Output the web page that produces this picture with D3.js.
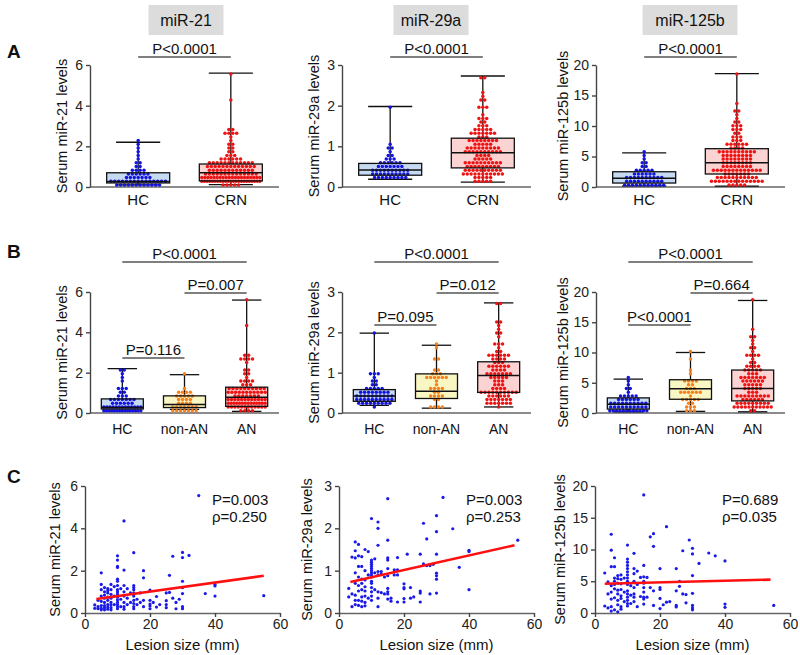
<!DOCTYPE html>
<html><head><meta charset="utf-8">
<script src="https://cdn.jsdelivr.net/npm/d3@7"></script>
<style>body{margin:0;background:#fff}svg{display:block}</style>
</head><body><svg id="chart" width="800" height="655"></svg>
<script>
// ---------------- DATA ----------------
const mirnas = ["miR-21", "miR-29a", "miR-125b"];
const yMax = [6, 3, 20];
const yTicks = [[0, 2, 4, 6], [0, 1, 2, 3], [0, 5, 10, 15, 20]];
const groupsA = ["HC", "CRN"];
const groupsB = ["HC", "non-AN", "AN"];
const pA = ["P<0.0001", "P<0.0001", "P<0.0001"];
const pHCvsAN = ["P<0.0001", "P<0.0001", "P<0.0001"];
const pNonANvsAN = ["P=0.007", "P=0.012", "P=0.664"];
const pHCvsNonAN = ["P=0.116", "P=0.095", "P<0.0001"];
const corrP = ["P=0.003", "P=0.003", "P=0.689"];
const corrRho = ["\u03c1=0.250", "\u03c1=0.253", "\u03c1=0.035"];
const lesionTicks = [0, 20, 40, 60];

// healthy controls
const hc21 = [0.1,0.11,0.12,0.12,0.13,0.14,0.15,0.15,0.16,0.17,0.18,0.18,0.19,0.2,0.2,0.21,0.22,0.22,0.23,0.24,0.25,0.26,0.27,0.28,0.3,0.32,0.35,0.38,0.4,0.42,0.45,0.48,0.5,0.55,0.58,0.6,0.62,0.65,0.68,0.7,0.75,0.8,0.85,0.9,1.0,1.05,1.2,1.25,1.3,1.5,1.7,1.9,2.05,2.2];
const hc29a = [0.19,0.2,0.21,0.22,0.23,0.24,0.25,0.26,0.27,0.28,0.29,0.3,0.3,0.31,0.32,0.33,0.34,0.35,0.36,0.37,0.38,0.39,0.4,0.41,0.42,0.42,0.43,0.44,0.45,0.46,0.47,0.48,0.5,0.51,0.52,0.53,0.55,0.56,0.58,0.6,0.61,0.63,0.65,0.68,0.7,0.78,0.82,0.85,0.95,0.98,1.02,1.98];
const hc125b = [0.2,0.25,0.3,0.35,0.4,0.45,0.5,0.5,0.55,0.6,0.6,0.65,0.7,0.75,0.8,0.85,0.9,1.0,1.05,1.1,1.2,1.25,1.3,1.35,1.4,1.45,1.5,1.6,1.7,1.75,1.8,1.9,2.0,2.1,2.2,2.3,2.4,2.5,2.6,2.7,2.8,2.9,3.1,3.4,3.8,4.2,4.8,5.3,5.6];

// CRN patients: lesion size (mm), subgroup (1 = AN, 0 = non-AN) and serum levels
const lesionSize = [3,3,4,4,4,5,5,5,5,5,5,5,5,6,6,6,6,6,6,6,6,7,7,7,7,7,7,7,7,8,8,8,8,8,8,8,8,9,9,9,
10,10,10,10,10,10,10,10,10,10,10,10,10,10,10,10,11,11,11,12,12,12,12,12,12,12,12,13,13,13,14,14,
15,15,15,15,15,15,15,15,15,15,16,16,17,17,18,18,18,18,20,20,20,20,20,21,22,22,23,25,25,25,25,26,26,27,27,28,28,29,30,30,30,30,30,30,30,32,35,37,40,40,40,55];
const advanced = [0,0,0,1,0, 0,1,0,0,1,0,1,0, 0,1,0,1,0,1,0,1, 1,0,1,0,1,0,1,0, 1,0,1,0,1,0,1,0, 1,0,1,
1,1,1,1,1,1,1,1,0,1,0,1,1,0,1,1, 1,0,1, 1,1,1,1,0,1,1,0, 1,1,0, 1,1,
1,1,1,1,1,0,1,1,1,0, 1,1, 1,1, 1,1,1,0, 1,1,1,1,0,
1,1,1,1,1,1,1,1,1,1,1,1,1,1,1,1,1,1,1,1,1,1,1,1,1,1,1,1,1];
const crn21 = [0.38,0.22,0.2,0.6,0.3, 1.9,1.35,1.1,0.8,0.55,0.35,0.22,0.15, 1.2,1.0,0.85,0.7,0.5,0.35,0.25,0.15,
1.15,1.05,0.95,0.75,0.6,0.4,0.28,0.18, 1.35,1.1,0.88,0.7,0.5,0.38,0.25,0.15, 1.25,0.8,0.4,
2.7,2.5,2.2,2.15,1.6,1.5,1.3,1.1,1.0,0.9,0.75,0.62,0.5,0.4,0.3,0.2, 1.15,0.65,0.3,
4.35,2.03,1.3,1.0,0.8,0.5,0.3,0.18, 1.15,0.7,0.4, 0.95,0.5,
2.85,1.3,1.2,1.1,0.95,0.8,0.6,0.45,0.3,0.2, 0.65,0.4, 0.95,0.5, 2.0,1.66,0.6,0.3, 1.08,0.6,0.42,0.33,0.2,
0.5, 0.78,0.28, 0.4, 0.58,0.4,0.95,0.25, 1.78,0.97, 2.68,0.7, 0.5,0.2, 0.65,
2.86,2.62,1.5,1.2,0.92,0.3,0.2, 2.72, 5.55, 0.92, 1.35,1.28,0.8, 0.82];
const crn29a = [0.58,0.38,1.32,0.45,0.15, 1.68,1.47,1.3,0.95,0.7,0.42,0.2,0.3, 1.62,1.35,1.1,0.85,0.65,0.52,0.3,0.18,
1.33,1.1,0.8,0.7,0.55,0.38,0.28,0.15, 1.5,1.0,0.78,0.62,0.52,0.4,0.25,0.17, 1.45,0.9,0.35,
2.23,1.25,1.2,1.15,1.1,1.05,1.0,0.95,0.9,0.85,0.75,0.7,0.6,0.5,0.4,0.3, 1.28,0.95,0.55,
2.15,2.0,1.6,0.98,0.9,0.5,0.35,0.15, 0.98,0.48,0.92, 0.85,0.45,
2.7,1.72,1.3,1.25,1.05,0.88,0.58,0.45,0.33,0.5, 0.35,0.28, 1.02,0.9, 1.31,1.02,0.26,0.9, 0.69,0.57,0.34,0.26,0.6,
1.39, 0.6,0.35, 0.38, 1.39,0.52,0.47,0.26, 2.12,1.16, 1.75,1.12, 1.12,0.45, 1.15,
2.3,1.92,1.39,0.94,0.88,0.8,0.47, 2.73, 1.99, 1.08, 1.48,1.45,0.55, 1.72];
const crn125b = [6.3,1.1,4.9,3.0,0.8, 9.9,12.4,7.3,4.3,3.3,2.2,1.0,0.3, 8.7,7.3,5.5,5.0,4.5,3.8,2.4,0.5,
5.9,5.4,4.7,3.6,3.0,2.0,1.3,0.2, 6.0,5.3,4.6,3.7,2.7,2.3,1.0,0.6, 5.5,3.3,1.8,
10.7,8.5,8.0,7.5,7.0,6.5,6.0,5.5,5.0,4.5,3.5,3.0,2.5,2.0,1.5,1.1, 4.3,2.8,1.5,
9.4,7.0,6.2,5.0,4.0,3.0,2.5,1.8, 6.6,4.5,1.0, 5.6,2.6,
18.6,7.5,5.7,5.0,4.7,4.0,3.3,2.5,2.2,1.4, 2.5,5.6, 12.0,4.0, 12.5,10.5,1.2,3.5, 7.0,4.0,2.3,0.7,3.7,
1.3, 13.6,1.7, 1.8, 7.0,3.5,1.2,0.95, 4.2,5.0, 9.8,3.0, 2.9,1.6, 11.5,
10.2,9.3,5.9,3.1,1.2,0.8,0.5, 7.8, 9.45, 9.0, 8.2,1.4,0.9, 1.2];

// box plot statistics [min, Q1, median, Q3, max]; order HC, CRN, non-AN, AN
const box21 = [[0.10,0.20,0.27,0.70,2.20],[0.12,0.30,0.70,1.13,5.60],[0.18,0.27,0.42,0.85,1.90],[0.08,0.33,0.78,1.28,5.60]];
const box29a = [[0.19,0.29,0.42,0.58,1.98],[0.12,0.47,0.84,1.20,2.73],[0.12,0.36,0.54,0.97,1.68],[0.15,0.51,0.93,1.27,2.73]];
const box125b = [[0.20,0.65,1.45,2.50,5.60],[0.15,2.13,3.98,6.28,18.6],[0.27,2.27,4.00,5.50,10.0],[0.20,2.00,4.05,7.10,18.6]];

// regression lines [[x1,y1],[x2,y2]]
const fit21 = [[3.5, 0.66], [55, 1.76]];
const fit29a = [[3.5, 0.73], [54, 1.60]];
const fit125b = [[3, 4.6], [54, 5.25]];

// ---------------- LAYOUT ----------------
const FONT = 'Arial, "Liberation Sans", sans-serif';
const svg = d3.select("#chart");
const W = 189, WC = 195;
const colX = [90, 342, 596], colXC = [85, 339, 595];
const titleCx = [186, 431, 690], titleW = [75, 75, 95];
const yTitleOffAB = [28, 28, 33], yTitleOffC = [30, 32, 35];
const hcNonAnY = [358, 325, 325];
const rowA = {top: 65, bottom: 187}, rowB = {top: 292, bottom: 413}, rowC = {top: 486, bottom: 613};
const fmt = d3.format("~g");

const hcData = [hc21, hc29a, hc125b];
const crnData = [crn21, crn29a, crn125b];
const boxData = [box21, box29a, box125b];
const fitData = [fit21, fit29a, fit125b];
const statIndex = {"HC": 0, "CRN": 1, "non-AN": 2, "AN": 3};
const dotColor = {"HC": "#1414e0", "CRN": "#ee1414", "non-AN": "#f5821f", "AN": "#ee1414"};
const boxFill = {"HC": "#c6daf2", "CRN": "#fbd3d3", "non-AN": "#f8f6c2", "AN": "#fbd3d3"};

function valuesFor(col, name) {
  if (name === "HC") return hcData[col];
  const v = crnData[col];
  if (name === "CRN") return v;
  const flag = name === "AN" ? 1 : 0;
  return v.filter((d, i) => advanced[i] === flag);
}

function swarm(vals, y, cx, maxW) {
  const rowH = 3.7, dx = 3.9;
  const bins = d3.group(vals.slice().sort(d3.ascending), v => Math.round(y(v) / rowH));
  const pts = [];
  for (const [k, arr] of bins) {
    const n = arr.length;
    const step = n > 1 ? Math.min(dx, maxW / (n - 1)) : 0;
    arr.forEach((v, i) => pts.push([cx + (i - (n - 1) / 2) * step, k * rowH]));
  }
  return pts;
}

function styleAxis(s) {
  s.select(".domain").attr("stroke", "#444").attr("stroke-width", 1.4);
  s.selectAll(".tick line").attr("stroke", "#444").attr("stroke-width", 1.4);
  s.selectAll(".tick text").attr("font-size", 14).attr("fill", "#222").attr("font-family", FONT);
}

function yTitle(x, cy, col) {
  svg.append("text").attr("transform", `translate(${x},${cy}) rotate(-90)`)
    .attr("text-anchor", "middle").attr("dy", "0.35em")
    .attr("font-family", FONT).attr("font-size", 14.5).attr("fill", "#111")
    .text(`Serum ${mirnas[col]} levels`);
}

function bracket(x1, x2, yl, label) {
  svg.append("line").attr("x1", x1).attr("x2", x2).attr("y1", yl).attr("y2", yl)
    .attr("stroke", "#555").attr("stroke-width", 1.5);
  svg.append("text").attr("x", (x1 + x2) / 2).attr("y", yl - 3).attr("text-anchor", "middle")
    .attr("font-family", FONT).attr("font-size", 15).attr("fill", "#111").text(label);
}

function boxPanel(col, row, groups, boxW, labelY, labelSize) {
  const x0 = colX[col];
  const y = d3.scaleLinear([0, yMax[col]], [row.bottom, row.top]);
  const x = d3.scalePoint(groups, [x0, x0 + W]).padding(0.52);
  const g = svg.append("g");
  g.append("line").attr("x1", x0).attr("x2", x0 + W).attr("y1", row.bottom).attr("y2", row.bottom)
    .attr("stroke", "#666").attr("stroke-width", 1.6);
  groups.forEach(name => {
    const s = boxData[col][statIndex[name]];
    const cx = x(name), capW = boxW * 0.7;
    g.append("rect").attr("x", cx - boxW / 2).attr("y", y(s[3])).attr("width", boxW)
      .attr("height", y(s[1]) - y(s[3])).attr("fill", boxFill[name]);
    const wl = g.append("g").attr("stroke", "#111").attr("stroke-width", 1.3);
    wl.append("line").attr("x1", cx).attr("x2", cx).attr("y1", y(s[4])).attr("y2", y(s[3]));
    wl.append("line").attr("x1", cx).attr("x2", cx).attr("y1", y(s[1])).attr("y2", y(s[0]));
    wl.append("line").attr("x1", cx - capW / 2).attr("x2", cx + capW / 2).attr("y1", y(s[4])).attr("y2", y(s[4]));
    wl.append("line").attr("x1", cx - capW / 2).attr("x2", cx + capW / 2).attr("y1", y(s[0])).attr("y2", y(s[0]));
    const pts = swarm(valuesFor(col, name), y, cx, boxW - 5);
    g.append("g").selectAll("circle").data(pts).join("circle")
      .attr("cx", d => d[0]).attr("cy", d => d[1]).attr("r", 1.75).attr("fill", dotColor[name]);
    g.append("rect").attr("x", cx - boxW / 2).attr("y", y(s[3])).attr("width", boxW)
      .attr("height", y(s[1]) - y(s[3])).attr("fill", "none").attr("stroke", "#111").attr("stroke-width", 1.3);
    g.append("line").attr("x1", cx - boxW / 2).attr("x2", cx + boxW / 2).attr("y1", y(s[2])).attr("y2", y(s[2]))
      .attr("stroke", "#111").attr("stroke-width", 1.5);
    g.append("text").attr("x", cx).attr("y", labelY).attr("text-anchor", "middle")
      .attr("font-family", FONT).attr("font-size", labelSize).attr("fill", "#111").text(name);
  });
  g.append("g").attr("transform", `translate(${x0},0)`)
    .call(d3.axisLeft(y).tickValues(yTicks[col]).tickFormat(fmt).tickSize(4).tickPadding(3).tickSizeOuter(0))
    .call(styleAxis);
  yTitle(x0 - yTitleOffAB[col], (row.top + row.bottom) / 2, col);
  return x;
}

// titles
mirnas.forEach((m, i) => {
  svg.append("rect").attr("x", titleCx[i] - titleW[i] / 2).attr("y", 5).attr("width", titleW[i]).attr("height", 30)
    .attr("fill", "#dcdcdc");
  svg.append("text").attr("x", titleCx[i]).attr("y", 26).attr("text-anchor", "middle")
    .attr("font-family", FONT).attr("font-size", 16).attr("fill", "#111").text(m);
});

// panel letters
[["A", 58], ["B", 258], ["C", 483]].forEach(([t, yy]) => {
  svg.append("text").attr("x", 7).attr("y", yy).attr("font-family", FONT).attr("font-weight", "bold")
    .attr("font-size", 19).attr("fill", "#111").text(t);
});

// Row A
mirnas.forEach((m, col) => {
  const x = boxPanel(col, rowA, groupsA, 63, 205, 15);
  bracket(x("HC"), x("CRN"), 57, pA[col]);
});

// Row B
mirnas.forEach((m, col) => {
  const x = boxPanel(col, rowB, groupsB, 42, 434, 14);
  bracket(x("HC"), x("AN"), 262, pHCvsAN[col]);
  bracket(x("non-AN"), x("AN"), 293, pNonANvsAN[col]);
  bracket(x("HC"), x("non-AN"), hcNonAnY[col], pHCvsNonAN[col]);
});

// Row C
mirnas.forEach((m, col) => {
  const x0 = colXC[col];
  const x = d3.scaleLinear([0, 60], [x0, x0 + WC]);
  const y = d3.scaleLinear([0, yMax[col]], [rowC.bottom, rowC.top]);
  const g = svg.append("g");
  g.append("g").attr("transform", `translate(0,${rowC.bottom})`)
    .call(d3.axisBottom(x).tickValues(lesionTicks).tickFormat(fmt).tickSize(4).tickPadding(2).tickSizeOuter(0))
    .call(s => { styleAxis(s); s.select(".domain").attr("stroke", "#666").attr("stroke-width", 1.6); });
  g.append("g").attr("transform", `translate(${x0},0)`)
    .call(d3.axisLeft(y).tickValues(yTicks[col]).tickFormat(fmt).tickSize(4).tickPadding(3).tickSizeOuter(0))
    .call(styleAxis);
  g.append("g").selectAll("circle").data(lesionSize).join("circle")
    .attr("cx", d => x(d)).attr("cy", (d, i) => y(crnData[col][i])).attr("r", 1.6).attr("fill", "#1a1ae8");
  const f = fitData[col];
  g.append("line").attr("x1", x(f[0][0])).attr("y1", y(f[0][1])).attr("x2", x(f[1][0])).attr("y2", y(f[1][1]))
    .attr("stroke", "#ff1010").attr("stroke-width", 2.6);
  g.append("text").attr("x", x0 + WC / 2).attr("y", 650).attr("text-anchor", "middle")
    .attr("font-family", FONT).attr("font-size", 15).attr("fill", "#111").text("Lesion size (mm)");
  g.append("text").attr("x", x0 + 127).attr("y", 505).attr("font-family", FONT).attr("font-size", 15)
    .attr("fill", "#111").text(corrP[col]);
  g.append("text").attr("x", x0 + 127).attr("y", 522).attr("font-family", FONT).attr("font-size", 15)
    .attr("fill", "#111").text(corrRho[col]);
  yTitle(x0 - yTitleOffC[col], (rowC.top + rowC.bottom) / 2, col);
});
</script></body></html>
